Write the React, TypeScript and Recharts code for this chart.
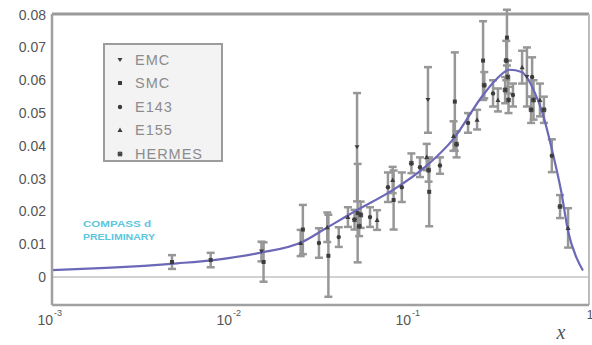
import React from "react";
import {
  ComposedChart,
  Line,
  Scatter,
  ErrorBar,
  XAxis,
  YAxis,
  ReferenceLine,
  Legend,
  Customized,
} from "recharts";

// Fitted x·g1 curve
const curveX = [0.001, 0.002, 0.005, 0.008, 0.0145, 0.025, 0.033, 0.049, 0.08, 0.124, 0.174, 0.256, 0.3, 0.36, 0.42, 0.5, 0.55, 0.62, 0.7, 0.764, 0.85, 0.925];
const curveY = [0.0021, 0.0028, 0.0042, 0.0052, 0.0074, 0.0107, 0.0145, 0.02, 0.0265, 0.034, 0.042, 0.0555, 0.06, 0.0632, 0.0625, 0.056, 0.05, 0.039, 0.026, 0.014, 0.006, 0.002];

// Measurements: x, value, error
const emcX = [0.0148, 0.0506, 0.126, 0.45];
const emcY = [0.0078, 0.0396, 0.054, 0.061];
const emcErr = [0.003, 0.0165, 0.01, 0.009];

const smcX = [0.00468, 0.0077, 0.0152, 0.0252, 0.035, 0.051, 0.081, 0.128, 0.178, 0.256, 0.348];
const smcY = [0.0046, 0.0052, 0.0046, 0.0145, 0.0065, 0.0195, 0.0235, 0.026, 0.0535, 0.066, 0.073];
const smcErr = [0.0021, 0.0022, 0.006, 0.0075, 0.0125, 0.015, 0.009, 0.0105, 0.015, 0.012, 0.0085];

const e143X = [0.031, 0.04, 0.0598, 0.0753, 0.09, 0.1137, 0.147, 0.211, 0.291, 0.376, 0.481, 0.62];
const e143Y = [0.0104, 0.0122, 0.0183, 0.0274, 0.0274, 0.0335, 0.034, 0.047, 0.056, 0.0555, 0.061, 0.037];
const e143Err = [0.0045, 0.003, 0.003, 0.0045, 0.0045, 0.003, 0.0025, 0.003, 0.004, 0.0035, 0.006, 0.005];

const e155X = [0.0245, 0.0345, 0.045, 0.0655, 0.08, 0.124, 0.175, 0.237, 0.31, 0.423, 0.532, 0.764];
const e155Y = [0.0104, 0.0152, 0.0183, 0.0174, 0.0296, 0.0366, 0.043, 0.048, 0.054, 0.064, 0.054, 0.015];
const e155Err = [0.004, 0.0045, 0.003, 0.003, 0.004, 0.004, 0.0045, 0.003, 0.0035, 0.005, 0.005, 0.006];

const hermesX = [0.049, 0.052, 0.053, 0.1018, 0.127, 0.182, 0.26, 0.345, 0.352, 0.34, 0.355, 0.49, 0.475, 0.56, 0.689];
const hermesY = [0.0175, 0.0155, 0.019, 0.0347, 0.0326, 0.0405, 0.0585, 0.066, 0.061, 0.057, 0.054, 0.054, 0.051, 0.051, 0.0215];
const hermesErr = [0.003, 0.003, 0.004, 0.003, 0.0035, 0.004, 0.004, 0.006, 0.005, 0.004, 0.004, 0.006, 0.004, 0.004, 0.0035];

// Axis ticks
const xDecades = [0.001, 0.01, 0.1, 1];
const xDecadeExponents = ["-3", "-2", "-1", ""];
const xMinorMantissas = [2, 3, 4, 5, 6, 7, 8, 9];
const yMajorTicks = [0, 0.01, 0.02, 0.03, 0.04, 0.05, 0.06, 0.07, 0.08];
const yTickLabels = ["0", "0.01", "0.02", "0.03", "0.04", "0.05", "0.06", "0.07", "0.08"];

const X_DOMAIN: [number, number] = [0.001, 1];
const Y_DOMAIN: [number, number] = [-0.0085, 0.0802];

const zip = (xs: number[], ys: number[], es?: number[]) =>
  xs.map((x, i) => ({ x, y: ys[i], err: es ? es[i] : 0 }));

const curveData = zip(curveX, curveY);
const series = [
  { name: "EMC", kind: "emc", data: zip(emcX, emcY, emcErr) },
  { name: "SMC", kind: "smc", data: zip(smcX, smcY, smcErr) },
  { name: "E143", kind: "e143", data: zip(e143X, e143Y, e143Err) },
  { name: "E155", kind: "e155", data: zip(e155X, e155Y, e155Err) },
  { name: "HERMES", kind: "hermes", data: zip(hermesX, hermesY, hermesErr) },
];

const xTicks: number[] = [];
xDecades.forEach((d, i) => {
  xTicks.push(d);
  if (i < xDecades.length - 1) xMinorMantissas.forEach((m) => xTicks.push(m * d));
});

const yTicks: number[] = [];
for (let k = -4; k <= 40; k++) yTicks.push(k / 500);

const AXIS = "#a0a0a0";
const FONT = "'Liberation Sans', Arial, sans-serif";

const Marker = ({ kind, cx, cy }: { kind: string; cx: number; cy: number }) => {
  const c = "#3c3c3c";
  switch (kind) {
    case "emc":
      return <path d={`M${cx - 2.5},${cy - 2} L${cx + 2.5},${cy - 2} L${cx},${cy + 2} Z`} fill={c} />;
    case "smc":
      return <rect x={cx - 2} y={cy - 2} width={4} height={4} fill={c} />;
    case "e143":
      return <circle cx={cx} cy={cy} r={2.2} fill={c} />;
    case "e155":
      return <path d={`M${cx - 2.5},${cy + 2} L${cx + 2.5},${cy + 2} L${cx},${cy - 2.5} Z`} fill={c} />;
    default:
      return (
        <g stroke={c} strokeWidth={1.4}>
          <line x1={cx - 2.5} x2={cx + 2.5} y1={cy} y2={cy} />
          <line x1={cx} x2={cx} y1={cy - 2.5} y2={cy + 2.5} />
          <line x1={cx - 2} x2={cx + 2} y1={cy - 2} y2={cy + 2} />
          <line x1={cx - 2} x2={cx + 2} y1={cy + 2} y2={cy - 2} />
        </g>
      );
  }
};

const EmptyTick = () => <g />;

const YTickLabel = (props: any) => {
  const x = Number(props.x);
  const y = Number(props.y);
  const idx = yMajorTicks.findIndex((t) => Math.abs(t - props.payload.value) < 1e-9);
  if (idx < 0) return <g />;
  return (
    <text x={x - 6} y={y + 5} textAnchor="end" fontFamily={FONT} fontSize={14} fill="#555">
      {yTickLabels[idx]}
    </text>
  );
};

const XTickLabel = (props: any) => {
  const x = Number(props.x);
  const y = Number(props.y);
  const idx = xDecades.findIndex((d) => Math.abs(d - props.payload.value) / d < 1e-6);
  if (idx < 0) return <g />;
  if (xDecadeExponents[idx] === "") {
    return (
      <text x={x + 1} y={y + 14} fontFamily={FONT} fontSize={12} fill="#555" textAnchor="middle">1</text>
    );
  }
  return (
    <text fontFamily={FONT} fill="#555">
      <tspan x={x + 1} y={y + 20} fontSize={14} textAnchor="end">10</tspan>
      <tspan x={x + 2} y={y + 11} fontSize={9} textAnchor="start">{xDecadeExponents[idx]}</tspan>
    </text>
  );
};

const LegendBox = (props: any) => {
  const order = series.map((s) => s.name);
  const items = (props.payload || [])
    .filter((p: any) => order.includes(p.value))
    .sort((a: any, b: any) => order.indexOf(a.value) - order.indexOf(b.value));
  return (
    <div
      style={{
        width: 120,
        height: 119,
        boxSizing: "border-box",
        border: "2px solid #9c9c9c",
        background: "#f3f3f3",
        paddingTop: 3,
      }}
    >
      {items.map((p: any) => (
        <div key={p.value} style={{ height: 23.5, display: "flex", alignItems: "center" }}>
          <svg width={30} height={10} style={{ flex: "none" }}>
            <Marker kind={series[order.indexOf(p.value)].kind} cx={15} cy={5} />
          </svg>
          <span style={{ fontFamily: FONT, fontSize: 14.5, color: "#8c8c8c", letterSpacing: 1 }}>{p.value}</span>
        </div>
      ))}
    </div>
  );
};

const Annotations = () => (
  <g>
    <text x={83} y={227} fontFamily={FONT} fontSize={9.5} fontWeight="bold" fill="#5cc6dc" textLength={68} lengthAdjust="spacingAndGlyphs">
      COMPASS d
    </text>
    <text x={83} y={240} fontFamily={FONT} fontSize={9.5} fontWeight="bold" fill="#5cc6dc" textLength={72} lengthAdjust="spacingAndGlyphs">
      PRELIMINARY
    </text>
    <text x={561} y={339} fontFamily="'Liberation Serif', 'DejaVu Serif', serif" fontStyle="italic" fontSize={20} fill="#555" textAnchor="middle">
      x
    </text>
  </g>
);

// Zero-size mirrored axes that only draw inward tick marks
const markAxis = {
  type: "number" as const,
  allowDataOverflow: true,
  mirror: true,
  axisLine: false,
  tick: <EmptyTick />,
  tickLine: { stroke: AXIS, strokeWidth: 2 },
  tickMargin: 0,
  interval: 0 as const,
};

export default function App() {
  return (
    <div style={{ position: "absolute", left: 0, top: 0, width: 592, height: 345, background: "#fff" }}>
      <ComposedChart width={592} height={345} margin={{ top: 14, right: 3, left: 0, bottom: 0 }}>
        <XAxis {...markAxis} xAxisId="xMinor" dataKey="x" scale="log" domain={X_DOMAIN} ticks={xTicks} tickSize={5} height={0} />
        <XAxis {...markAxis} xAxisId="xMajor" dataKey="x" scale="log" domain={X_DOMAIN} ticks={xDecades} tickSize={14} height={0} />
        <YAxis {...markAxis} yAxisId="yMinor" dataKey="y" domain={Y_DOMAIN} ticks={yTicks} tickSize={7} width={0} />
        <YAxis {...markAxis} yAxisId="yMajor" dataKey="y" domain={Y_DOMAIN} ticks={yMajorTicks} tickSize={16} width={0} />
        <XAxis
          dataKey="x"
          type="number"
          scale="log"
          domain={X_DOMAIN}
          allowDataOverflow
          ticks={xTicks}
          tick={<XTickLabel />}
          tickSize={0}
          tickMargin={0}
          tickLine={false}
          interval={0}
          height={40}
          axisLine={{ stroke: AXIS, strokeWidth: 2.5 }}
        />
        <YAxis
          dataKey="y"
          type="number"
          domain={Y_DOMAIN}
          allowDataOverflow
          ticks={yTicks}
          tick={<YTickLabel />}
          tickSize={0}
          tickMargin={0}
          tickLine={false}
          interval={0}
          width={52}
          axisLine={{ stroke: AXIS, strokeWidth: 2.5 }}
        />
        <ReferenceLine y={0} stroke="#d2d2d2" strokeWidth={2} />
        <ReferenceLine y={Y_DOMAIN[1]} stroke="#9a9a9a" strokeWidth={3} />
        <ReferenceLine x={X_DOMAIN[1]} stroke="#bdbdbd" strokeWidth={2} />
        {series.map((s) => (
          <Scatter
            key={s.name}
            name={s.name}
            data={s.data}
            fill="#3c3c3c"
            isAnimationActive={false}
            shape={(p: any) => <Marker kind={s.kind} cx={p.cx} cy={p.cy} />}
          >
            <ErrorBar dataKey="err" direction="y" width={4} stroke="#979797" strokeWidth={2.5} />
          </Scatter>
        ))}
        <Line
          data={curveData}
          dataKey="y"
          type="monotone"
          stroke="#6c68b8"
          strokeWidth={2.2}
          dot={false}
          legendType="none"
          isAnimationActive={false}
        />
        <Legend
          layout="vertical"
          align="center"
          verticalAlign="middle"
          content={<LegendBox />}
          wrapperStyle={{ left: 103, top: 43, width: 120, height: 119 }}
        />
        <Customized component={Annotations} />
      </ComposedChart>
    </div>
  );
}
